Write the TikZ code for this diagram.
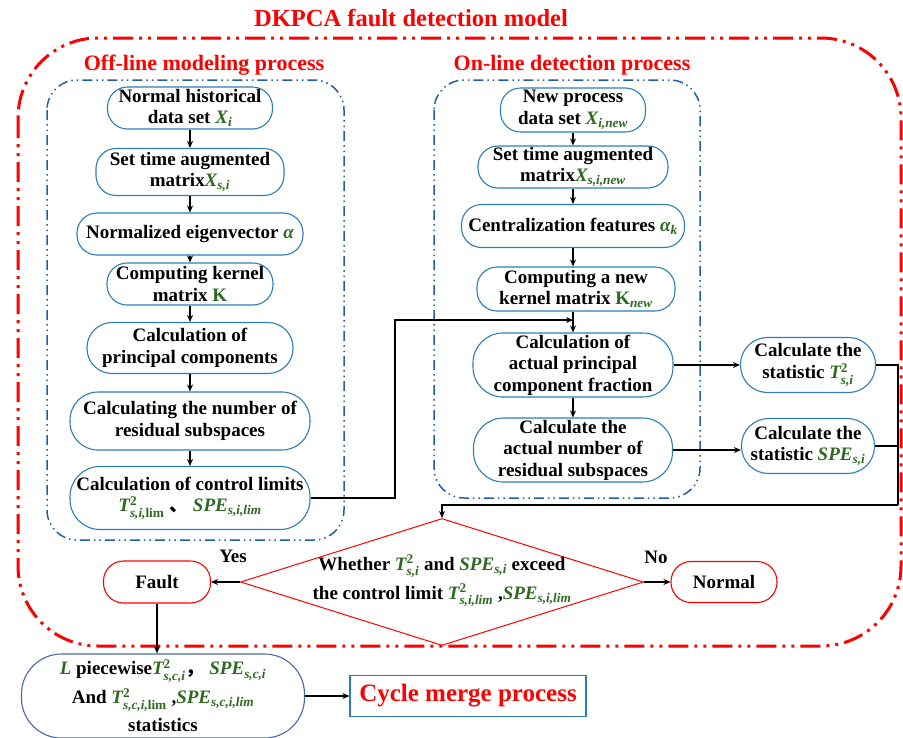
\documentclass[tikz,border=0pt]{standalone}
\usepackage{amsmath}
\usepackage{fontspec}
\setmainfont{Liberation Serif}
\newfontfamily\cjk{Noto Sans CJK SC}
\usetikzlibrary{shapes.geometric,arrows.meta}
\definecolor{mg}{HTML}{2D6A1F}
\definecolor{nb}{HTML}{2E7DB8}
\definecolor{fb}{HTML}{1F5FA8}
\definecolor{rd}{HTML}{FF0000}
\definecolor{lb}{HTML}{4A68A8}
\newcommand\gs[2]{{\color{mg}\itshape #1\ensuremath{_{\text{#2}}}}}
\newcommand\gss[3]{{\color{mg}\itshape #1\ensuremath{^{\text{\upshape #2}}_{\text{#3}}}}}
\begin{document}
\begin{tikzpicture}[x=1pt,y=-1pt,
  font=\fontsize{19}{21.5}\selectfont\bfseries,
  box/.style={draw=nb, line width=1.1pt, rounded corners=#1, align=center, inner sep=0pt},
  box/.default=20pt,
  rbox/.style={draw=rd, line width=1.1pt, rounded corners=20pt, align=center, inner sep=0pt},
  arr/.style={-{Stealth[length=7pt,width=6pt]}, line width=1.3pt},
  ln/.style={line width=1.3pt},
  rframe/.style={draw=rd, line width=3pt, dash pattern=on 20pt off 6pt on 3pt off 6pt on 3pt off 6pt},
  bframe/.style={draw=fb, line width=1.5pt, dash pattern=on 10pt off 4pt on 1.5pt off 4pt on 1.5pt off 4pt},
  ttl/.style={text=rd, font=\fontsize{#1}{26}\selectfont\bfseries},
]
\useasboundingbox (0,0) rectangle (903,737);

% frames
\draw[rframe, rounded corners=80pt] (18,38) rectangle (901,646);
\draw[bframe, rounded corners=30pt] (47,80) rectangle (344,540);
\draw[bframe, rounded corners=30pt] (434,80) rectangle (700,498);

% titles
\node[ttl=24.5] (title) at (411,18) {DKPCA fault detection model};
\node[ttl=22] (toff) at (204,65) {Off-line modeling process};
\node[ttl=22] (ton) at (572,65) {On-line detection process};

% off-line
\node[box, minimum width=165, minimum height=42] (a1) at (190,108) {Normal historical\\data set \gs{X}{i}};
\node[box, minimum width=188, minimum height=47] (a2) at (190,172) {Set time augmented\\matrix\gs{X}{s,i}};
\node[box, minimum width=226, minimum height=42] (a3) at (190,234) {Normalized eigenvector {\color{mg}\itshape α}};
\node[box, minimum width=166, minimum height=42] (a4) at (190,284) {Computing kernel\\matrix {\color{mg}K}};
\node[box=25pt, minimum width=206, minimum height=51] (a5) at (190,348) {Calculation of\\principal components};
\node[box=28pt, minimum width=240, minimum height=58] (a6) at (190,421) {Calculating the number of\\residual subspaces};
\node[box=30pt, minimum width=240, minimum height=63] (a7) at (190,498) {Calculation of control limits\\\gss{T}{2}{s,i,\upshape lim} {\cjk 、} \gs{SPE}{s,i,lim}};

% on-line
\node[box, minimum width=145, minimum height=44] (b1) at (573,110) {New process\\data set \gs{X}{i,new}};
\node[box, minimum width=190, minimum height=42] (b2) at (573,167) {Set time augmented\\matrix\gs{X}{s,i,new}};
\node[box, minimum width=223, minimum height=43] (b3) at (573,226) {Centralization features \gs{α}{k}};
\node[box, minimum width=198, minimum height=44] (b4) at (576,289) {Computing a new\\kernel matrix {\color{mg}K\ensuremath{_{\text{\itshape new}}}}};
\node[box=30pt, minimum width=200, minimum height=64] (b5) at (573,365) {Calculation of\\actual principal\\component fraction};
\node[box=30pt, minimum width=199, minimum height=64] (b6) at (573,450) {Calculate the\\actual number of\\residual subspaces};

% statistics
\node[box=27pt, minimum width=135, minimum height=55] (t) at (808,365) {Calculate the\\statistic \gss{T}{2}{s,i}};
\node[box=27pt, minimum width=133, minimum height=55] (s) at (808,446) {Calculate the\\statistic \gs{SPE}{s,i}};

% decision
\node[diamond, draw=rd, line width=1pt, minimum width=403, minimum height=127, inner sep=0pt] (d) at (442,582) {};
\node[align=center, font=\fontsize{19}{29}\selectfont\bfseries] (dt) at (442,581) {Whether \gss{T}{2}{s,i} and \gs{SPE}{s,i} exceed\\the control limit \gss{T}{2}{s,i,lim} ,\gs{SPE}{s,i,lim}};
\node[rbox, minimum width=107, minimum height=42] (f) at (157,582) {Fault};
\node[rbox, minimum width=106, minimum height=41] (n) at (724,582) {Normal};
\node (yes) at (233,556) {Yes};
\node (no) at (656,557) {No};

% bottom
\node[box=40pt, draw=lb, minimum width=283, minimum height=84, font=\fontsize{19}{28.5}\selectfont\bfseries] (L) at (163,696) {{\color{mg}\itshape L} piecewise\gss{T}{2}{s,c,i}{\cjk ，} \gs{SPE}{s,c,i}\\And \gss{T}{2}{s,c,i,\upshape lim} ,\gs{SPE}{s,c,i,lim}\\statistics};
\node[draw=nb, line width=1.2pt, minimum width=236, minimum height=41, ttl=25] (c) at (468,696) {Cycle merge process};

% connectors
\draw[arr] (a1) -- (a2);
\draw[arr] (a2) -- (a3);
\draw[arr] (a3) -- (a4);
\draw[arr] (a4) -- (a5);
\draw[arr] (a5) -- (a6);
\draw[arr] (a6) -- (a7);
\draw[arr] (b1) -- (b2);
\draw[arr] (b2) -- (b3);
\draw[arr] (b3) -- (b3 |- b4.north);
\draw[arr] (b4.south -| b5) -- (b5);
\draw[arr] (b5) -- (b6);
\coordinate (j1) at (395,320);
\coordinate (m) at (573,320);
\draw[arr] (a7.east) -| (j1) -- (m);
\draw[arr] (b5.east) -- (t.west);
\draw[arr] (b6.east) -- (b6.east -| s.west);
\coordinate (r1) at (898,505);
\draw[ln] (t.east) -| (r1);
\draw[ln] (s.east) -- (s.east -| r1);
\draw[arr] (r1) -| (d.north);
\draw[arr] (d.west) -- (f.east);
\draw[arr] (d.east) -- (n.west);
\draw[arr] (f.south) -- (f.south |- L.north);
\draw[arr] (L.east) -- (c.west);
\end{tikzpicture}
\end{document}
